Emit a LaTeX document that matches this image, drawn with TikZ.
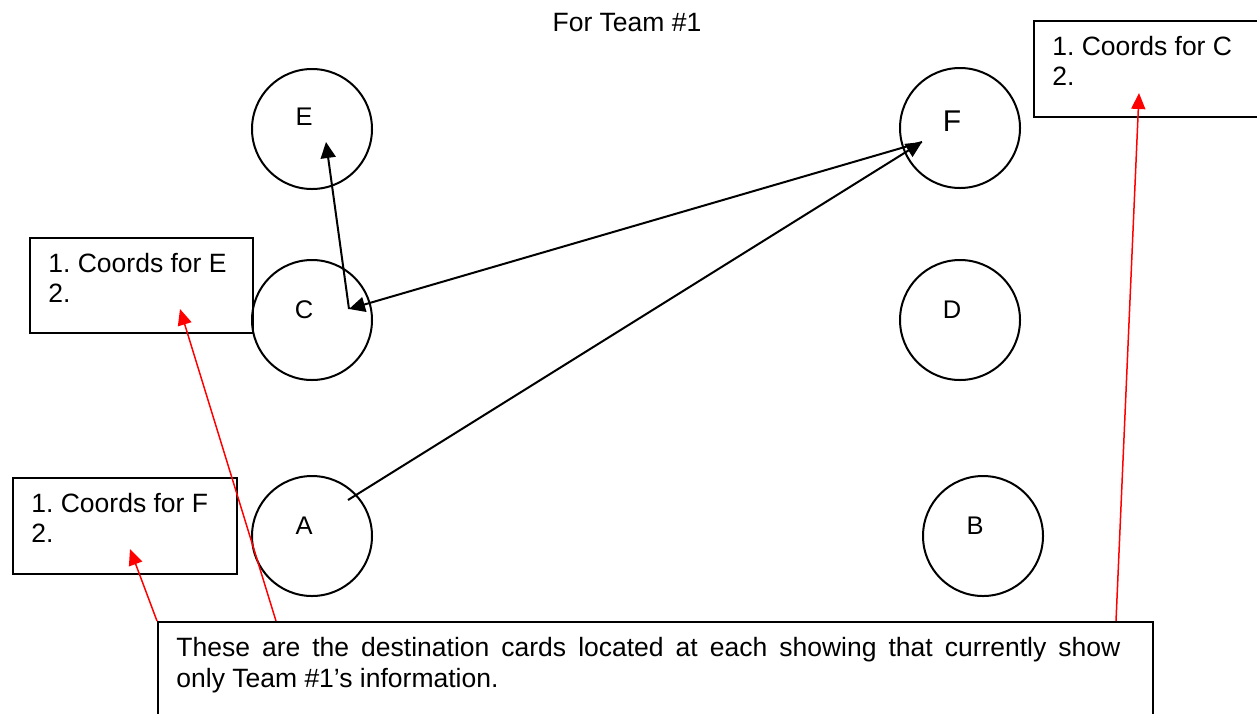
\documentclass[tikz,border=0pt]{standalone}
\usepackage{fontspec}
\setmainfont{Liberation Sans}
\usetikzlibrary{arrows.meta}
\frenchspacing
\tikzstyle{stop} = [draw=black, line width=1pt, circle, minimum size=60pt, inner sep=0pt]
\tikzstyle{lbl} = [font=\fontsize{12.75pt}{15pt}\selectfont, xshift=-4pt, yshift=5pt]
\tikzstyle{card} = [draw=black, line width=1pt, anchor=north west, minimum width=111.75pt, minimum height=48pt, inner sep=0pt]
\tikzstyle{cardtext} = [anchor=north west, align=left, inner sep=0pt, font=\fontsize{13.25pt}{15pt}\selectfont]
\tikzstyle{route} = [line width=1pt, -{Triangle[length=8pt,width=7.5pt]}]
\tikzstyle{pointer} = [red, line width=0.75pt, -{Triangle[length=8pt,width=7pt]}]

\begin{document}
\begin{tikzpicture}[x=0.5pt, y=-0.5pt]
    \useasboundingbox (0,0) rectangle (1257,713);
    \clip (0,0) rectangle (1257,713);
    \node[font=\fontsize{13.25pt}{15pt}\selectfont, anchor=base](title) at (627,31){For Team \#1};
    % stops
    \node[stop, label={[lbl, yshift=1pt]center:E}](E) at (312,129){};
    \node[stop, label={[lbl]center:C}](C) at (312,320){};
    \node[stop, label={[lbl]center:A}](A) at (312,536){};
    \node[stop, label={[lbl, font=\fontsize{15pt}{18pt}\selectfont, yshift=-1.5pt]center:F}](F) at (960,128){};
    \node[stop, label={[lbl]center:D}](D) at (960,320){};
    \node[stop, label={[lbl]center:B}](B) at (983,536){};
    \coordinate (C-out) at ([shift={(37,-11)}]C.center);
    \coordinate (E-in) at ([shift={(14,13)}]E.center);
    \coordinate (F-in) at ([shift={(-38,14)}]F.center);
    \coordinate (A-out) at ([shift={(36,-36)}]A.center);
    \draw[route](C-out)--(E-in);
    \draw[route](F-in)--(C-out);
    \draw[route](A-out)--(F-in);
    % destination cards
    \node[card](cardC) at (1033,20){};
    \node[cardtext](cardCtext) at ([shift={(19,16)}]cardC.north west){1. Coords for C\\2.};
    \node[card, minimum width=111.5pt, minimum height=47.5pt](cardE) at (29,237){};
    \node[cardtext](cardEtext) at ([shift={(19,16)}]cardE.north west){1. Coords for E\\2.};
    \node[card](cardF) at (12,477){};
    \node[cardtext](cardFtext) at ([shift={(19,16)}]cardF.north west){1. Coords for F\\2.};
    \node[card, minimum width=497.5pt, minimum height=60pt](note) at (157,621){};
    \node[cardtext, text width=472pt, align=justify, font=\fontsize{13.25pt}{15.5pt}\selectfont](notetext) at ([shift={(19,16)}]note.north west){These are the destination cards located at each showing that currently show\linebreak only Team \#1's information.};
    \coordinate (pC) at ([shift={(106,73)}]cardC.north west);
    \coordinate (pE) at ([shift={(151,72)}]cardE.north west);
    \coordinate (pF) at ([shift={(118,72)}]cardF.north west);
    \draw[pointer](note.north west)--(pF);
    \draw[pointer]([shift={(119,0)}]note.north west)--(pE);
    \draw[pointer]([shift={(959,0)}]note.north west)--(pC);
  \end{tikzpicture}
\end{document}
